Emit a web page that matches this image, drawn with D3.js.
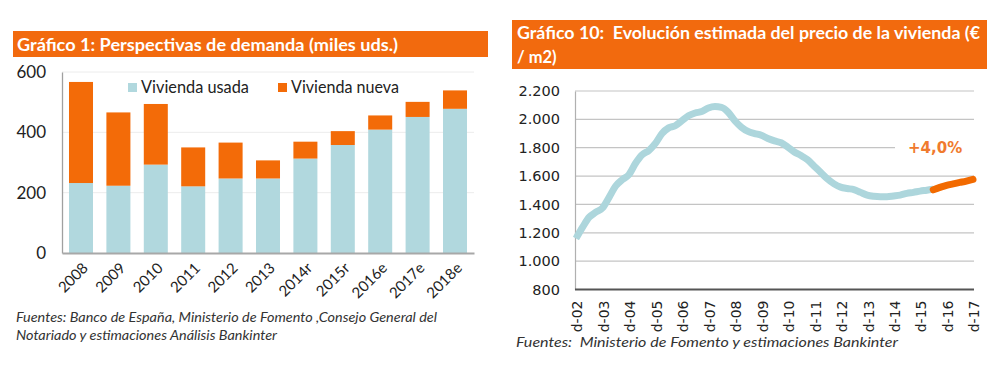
<!DOCTYPE html>
<html><head><meta charset="utf-8">
<script src="https://cdn.jsdelivr.net/npm/d3@7/dist/d3.min.js"></script>
<style>
html,body{margin:0;padding:0;background:#fff;}
svg{display:block;}
text{white-space:pre;}
</style></head>
<body>
<svg id="c" width="1000" height="369"></svg>
<script>
// ---------- Data: Gráfico 1 ----------
const categories = ["2008","2009","2010","2011","2012","2013","2014r","2015r","2016e","2017e","2018e"];
const viviendaUsada = [232,223,293,221,247,247,313,358,409,451,478];
const viviendaNueva = [335,243,201,129,119,60,56,46,47,50,61];
const demandTicks = [0,200,400,600];

// ---------- Data: Gráfico 10 (quarterly, index 0 = d-02) ----------
const yearLabels = ["d-02","d-03","d-04","d-05","d-06","d-07","d-08","d-09","d-10","d-11","d-12","d-13","d-14","d-15","d-16","d-17"];
const priceActual = [1160,1240,1310,1345,1375,1450,1530,1575,1610,1690,1750,1780,1830,1900,1940,1955,
  1990,2025,2045,2055,2080,2090,2085,2050,1990,1945,1915,1900,1888,1865,1848,1835,
  1805,1770,1745,1715,1670,1625,1580,1545,1522,1512,1505,1485,1466,1458,1455,1455,
  1460,1466,1478,1485,1494,1500,1507];
const priceForecast = [1503,1520,1535,1545,1555,1565,1577];
const priceTicks = [800,1000,1200,1400,1600,1800,2000,2200];
const priceTickLabels = ["800","1.000","1.200","1.400","1.600","1.800","2.000","2.200"];
const annotation = "+4,0%";

const ORANGE = "#F26A0E", BLUE = "#B1D8DE", LINEBLUE = "#ADD6DC";
const svg = d3.select("#c");

function fit(sel, w){ sel.attr("textLength", w).attr("lengthAdjust","spacingAndGlyphs"); return sel; }

// ================= LEFT CHART =================
svg.append("rect").attr("x",13).attr("y",31).attr("width",475).attr("height",26).attr("fill",ORANGE);
fit(svg.append("text").attr("x",17).attr("y",50.5).attr("fill","#fff")
  .attr("font-family","Lato").attr("font-weight","bold").attr("font-size",16.5)
  .text("Gráfico 1: Perspectivas de demanda (miles uds.)"), 381);

const xb = d3.scaleBand(categories,[62,474]).paddingInner(0.358).paddingOuter(0.187);
const yb = d3.scaleLinear([0,600],[253,72]);

// grid
svg.append("g").selectAll("line").data(demandTicks.filter(d=>d>0)).join("line")
  .attr("x1",62).attr("x2",474).attr("y1",d=>yb(d)).attr("y2",d=>yb(d))
  .attr("stroke","#ececec").attr("stroke-width",1);

// y axis labels
const yAxL = d3.axisLeft(yb).tickValues(demandTicks).tickSize(0).tickPadding(16);
const gyl = svg.append("g").attr("transform","translate(62,0)").call(yAxL);
gyl.select(".domain").attr("stroke","#a0a0a0").attr("stroke-width",1.3);
gyl.selectAll("text").attr("font-family","Lato").attr("font-size",17).attr("fill","#222");

// bars
const stackData = categories.map((c,i)=>({cat:c, usada:viviendaUsada[i], nueva:viviendaNueva[i]}));
const series = d3.stack().keys(["usada","nueva"])(stackData);
const colors = {usada:BLUE, nueva:"#F36B08"};
svg.append("g").selectAll("g").data(series).join("g").attr("fill",d=>colors[d.key])
  .selectAll("rect").data(d=>d).join("rect")
  .attr("x",d=>xb(d.data.cat)).attr("width",xb.bandwidth())
  .attr("y",d=>yb(d[1])).attr("height",d=>yb(d[0])-yb(d[1]));

// x axis
const xAxL = d3.axisBottom(xb).tickSize(0).tickPadding(0);
const gxl = svg.append("g").attr("transform","translate(0,253)").call(xAxL);
gxl.select(".domain").attr("stroke","#a8a8a8").attr("stroke-width",2);
gxl.selectAll("text").attr("font-family","Lato").attr("font-size",15).attr("fill","#222")
  .attr("text-anchor","end").attr("dy",0).attr("y",0)
  .attr("transform","translate(8,16) rotate(-45)");

// legend
const legend = [{k:"Vivienda usada",c:BLUE,x:128},{k:"Vivienda nueva",c:"#F36B08",x:278}];
legend.forEach(l=>{
  svg.append("rect").attr("x",l.x).attr("y",83).attr("width",9).attr("height",9).attr("fill",l.c);
  fit(svg.append("text").attr("x",l.x+13).attr("y",92.5).attr("font-family","Lato").attr("font-size",16.5)
    .attr("fill","#222").text(l.k),108);
});

// footer
fit(svg.append("text").attr("x",16).attr("y",321.5).attr("font-family","Lato").attr("font-style","italic")
  .attr("font-size",13).attr("fill","#333").text("Fuentes: Banco de España, Ministerio de Fomento ,Consejo General del"),421);
fit(svg.append("text").attr("x",16).attr("y",339.5).attr("font-family","Lato").attr("font-style","italic")
  .attr("font-size",13).attr("fill","#333").text("Notariado y estimaciones Análisis Bankinter"),261);

// ================= RIGHT CHART =================
svg.append("rect").attr("x",512).attr("y",20).attr("width",475).attr("height",49).attr("fill",ORANGE);
fit(svg.append("text").attr("x",517).attr("y",39).attr("fill","#fff").attr("xml:space","preserve")
  .attr("font-family","Lato").attr("font-weight","bold").attr("font-size",16.5)
  .text("Gráfico 10:  Evolución estimada del precio de la vivienda (€"),463);
svg.append("text").attr("x",517).attr("y",62.5).attr("fill","#fff")
  .attr("font-family","Lato").attr("font-weight","bold").attr("font-size",16.5).text("/ m2)");

const xp = d3.scaleLinear([0,60],[576,973]);
const yp = d3.scaleLinear([800,2200],[289.5,91]);

svg.append("g").selectAll("line").data(priceTicks.filter(d=>d>800)).join("line")
  .attr("x1",575).attr("x2",974).attr("y1",d=>yp(d)).attr("y2",d=>yp(d))
  .attr("stroke","#c4c4c4").attr("stroke-width",1.2);

const yAxR = d3.axisLeft(yp).tickValues(priceTicks).tickFormat((d,i)=>priceTickLabels[i]).tickSize(0).tickPadding(15);
const gyr = svg.append("g").attr("transform","translate(575,0)").call(yAxR);
gyr.select(".domain").attr("stroke","#b0b0b0").attr("stroke-width",1.2);
gyr.selectAll("text").attr("font-family","DejaVu Sans").attr("font-size",14.5).attr("fill","#222");

const xAxR = d3.axisBottom(xp).tickValues(d3.range(0,61,4)).tickFormat((d,i)=>yearLabels[i]).tickSize(0).tickPadding(0);
const gxr = svg.append("g").attr("transform","translate(0,289.5)").call(xAxR);
gxr.select(".domain").attr("stroke","#555").attr("stroke-width",2.2).attr("d","M575,0H974");
gxr.selectAll("text").attr("font-family","DejaVu Sans").attr("font-size",14).attr("fill","#222")
  .attr("text-anchor","end").attr("y",0).attr("dy","0.35em")
  .attr("transform","translate(1,11) rotate(-90)");

const line = d3.line().x(d=>xp(d[0])).y(d=>yp(d[1])).curve(d3.curveMonotoneX);
svg.append("path").datum(priceActual.map((v,i)=>[i,v])).attr("d",line)
  .attr("fill","none").attr("stroke",LINEBLUE).attr("stroke-width",7).attr("stroke-linejoin","round");
const fStart = priceActual.length-1;
svg.append("path").datum(priceForecast.map((v,i)=>[fStart+i,v])).attr("d",line)
  .attr("fill","none").attr("stroke","#F26A00").attr("stroke-width",7).attr("stroke-linecap","round");

// annotation
svg.append("rect").attr("x",895).attr("y",yp(1800)-9).attr("width",80).attr("height",18).attr("fill","#fff");
svg.append("text").attr("x",908).attr("y",152.5).attr("font-family","DejaVu Sans").attr("font-weight","bold")
  .attr("font-size",15).attr("fill","#F07A2E").text(annotation);

fit(svg.append("text").attr("x",516).attr("y",347).attr("font-family","Lato").attr("font-style","italic")
  .attr("xml:space","preserve")
  .attr("font-size",14).attr("fill","#333").text("Fuentes:  Ministerio de Fomento y estimaciones Bankinter"),382);
</script>
</body></html>
